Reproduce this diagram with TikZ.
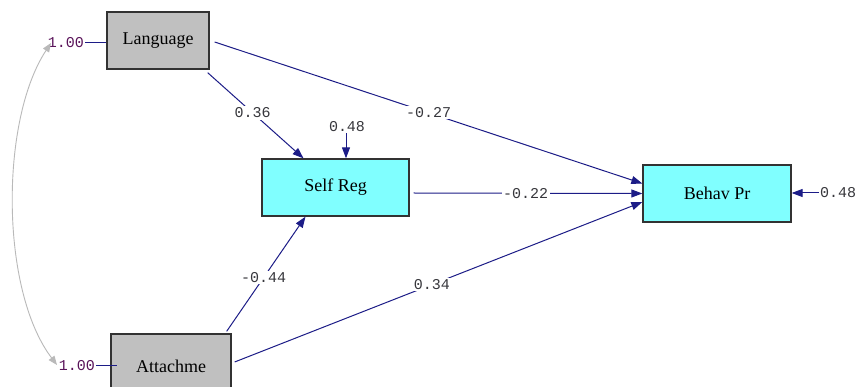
\documentclass[tikz,border=0pt]{standalone}
\usepackage{fontspec}
\setmainfont{Liberation Serif}
\newfontfamily\labfont{Liberation Mono}
\usetikzlibrary{arrows.meta}
\definecolor{navyline}{RGB}{28,28,135}
\definecolor{boxgray}{RGB}{192,192,192}
\definecolor{boxcyan}{RGB}{128,255,255}
\definecolor{boxedge}{RGB}{50,50,50}
\definecolor{labtext}{RGB}{55,55,60}
\definecolor{onetext}{RGB}{90,20,90}
\definecolor{curvegray}{RGB}{185,185,185}
\tikzset{
  varbox/.style={draw=boxedge, line width=1.3pt, minimum height=57pt, inner sep=0pt, font=\fontsize{18}{20}\selectfont},
  obsbox/.style={varbox, fill=boxgray},
  latbox/.style={varbox, fill=boxcyan},
  pathedge/.style={draw=navyline, line width=1pt, -{Triangle[length=11pt,width=8pt]}},
  plainline/.style={draw=navyline, line width=1pt},
  coef/.style={font=\labfont\fontsize{15}{17}\selectfont, text=labtext, fill=white, inner sep=1.5pt},
  onelab/.style={font=\labfont\fontsize{15}{17}\selectfont, text=onetext, inner sep=1pt},
}
\begin{document}
\begin{tikzpicture}[x=1pt,y=-1pt]
\path[use as bounding box] (0,0) rectangle (860,387);
\clip (0,0) rectangle (860,387);
\fill[white] (0,0) rectangle (860,387);

\node[obsbox, minimum width=102pt] (lang) at (158,40.5) {Language};
\node[obsbox, minimum width=120pt, minimum height=64pt] (att) at (171,366) {Attachme};
\node[latbox, minimum width=147pt] (sr) at (335.5,187.5) {Self Reg};
\node[latbox, minimum width=148pt] (bp) at (717,193.5) {Behav Pr};

% variance labels of exogenous variables
\node[onelab, anchor=east] (one1) at (85,43) {1.00};
\node[onelab, anchor=east] (one2) at (96,366) {1.00};
\draw[plainline] (one1.east) -- (lang.west |- one1.east);
\draw[plainline] (one2.east) -- ([xshift=7pt]att.west |- one2.east);

% covariance curve
\draw[curvegray, line width=0.9pt, {Triangle[length=9pt,width=7pt]}-{Triangle[length=9pt,width=7pt]}]
  (51,43) .. controls (0,120) and (0,290) .. (57,365);

% paths
\draw[pathedge] ([xshift=-2pt,yshift=-3pt]lang.south east) -- node[coef, pos=0.47] {0.36} ([xshift=-32pt]sr.north);
\draw[pathedge] ([xshift=5pt,yshift=-1.5pt]lang.east) -- node[coef, pos=0.5] {-0.27} ([yshift=10pt]bp.west);
\draw[pathedge] ([xshift=4pt,yshift=-5.5pt]sr.east) -- node[coef, pos=0.49] {-0.22} (bp.west);
\draw[pathedge] ([xshift=-5pt,yshift=2pt]att.north east) -- node[coef, pos=0.47] {-0.44} ([xshift=-30pt]sr.south);
\draw[pathedge] ([xshift=3pt,yshift=4pt]att.east) -- node[coef, pos=0.484] {0.34} ([yshift=-8.5pt]bp.west);

% error terms
\node[coef, inner sep=1pt] (e1) at (347,127) {0.48};
\draw[pathedge] (e1.south -| sr.north) ++(10.5,0) coordinate (e1s) -- (e1s |- sr.north);
\node[coef, anchor=west, inner sep=1pt] (e2) at (819,193) {0.48};
\draw[pathedge] (e2.west) -- (bp.east |- e2.west);
\end{tikzpicture}
\end{document}
